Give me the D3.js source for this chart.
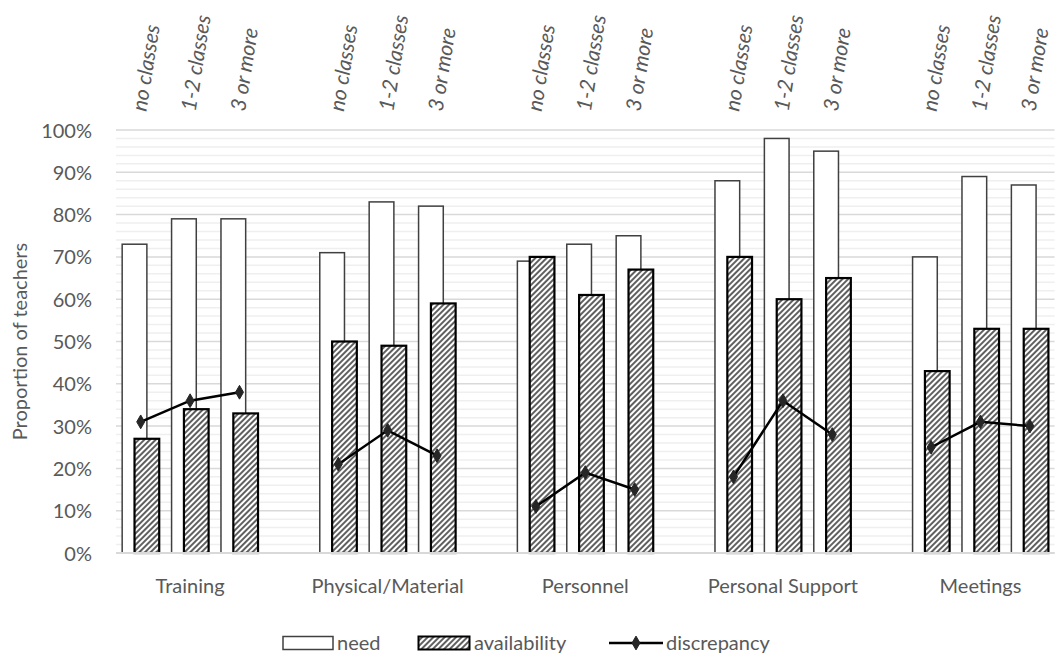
<!DOCTYPE html>
<html>
<head>
<meta charset="utf-8">
<script src="https://cdn.jsdelivr.net/npm/d3@7"></script>
<style>
  html, body { margin: 0; padding: 0; background: #fff; }
  svg { display: block; font-family: Lato, "Open Sans", sans-serif; }
</style>
</head>
<body>
<svg id="chart" width="1055" height="653"></svg>
<script>
// Resource areas and class-count subgroups
const groups = ["Training", "Physical/Material", "Personnel", "Personal Support", "Meetings"];
const subgroups = ["no classes", "1-2 classes", "3 or more"];

// Proportions (%) per group, in subgroup order
const need         = [[73, 79, 79], [71, 83, 82], [69, 73, 75], [88, 98, 95], [70, 89, 87]];
const availability = [[27, 34, 33], [50, 49, 59], [70, 61, 67], [70, 60, 65], [43, 53, 53]];
const discrepancy  = [[31, 36, 38], [21, 29, 23], [11, 19, 15], [18, 36, 28], [25, 31, 30]];

const yTicks = [0, 10, 20, 30, 40, 50, 60, 70, 80, 90, 100];
const legendLabels = ["need", "availability", "discrepancy"];

const svg = d3.select("#chart");
const textColor = "#595959";

const plot = { left: 116, right: 1054.6, top: 130, bottom: 553 };

// 3 bars per group plus one empty slot between groups
const slotsPerGroup = subgroups.length + 1;
const nSlots = groups.length * slotsPerGroup - 1;
const slotIndex = (g, s) => g * slotsPerGroup + s;

const x = d3.scaleBand().domain(d3.range(nSlots)).range([plot.left, plot.right]).padding(0);
const bw = x.bandwidth();
const y = d3.scaleLinear().domain([0, 100]).range([plot.bottom, plot.top]);

// hatch pattern for availability bars
const defs = svg.append("defs");
const hp = 4.0;
const pat = defs.append("pattern")
  .attr("id", "hatch")
  .attr("patternUnits", "userSpaceOnUse")
  .attr("width", hp).attr("height", hp)
  .attr("patternTransform", "rotate(45)");
pat.append("rect").attr("width", hp).attr("height", hp).attr("fill", "#fff");
pat.append("line").attr("x1", 1).attr("y1", 0).attr("x2", 1).attr("y2", hp)
  .attr("stroke", "#000").attr("stroke-width", 1.25);

// gridlines: minor every 2%, major every 10%
const minor = d3.range(2, 100, 2).filter(v => v % 10 !== 0);
svg.append("g").selectAll("line").data(minor).join("line")
  .attr("x1", plot.left).attr("x2", plot.right)
  .attr("y1", d => y(d)).attr("y2", d => y(d))
  .attr("stroke", "#efefef").attr("stroke-width", 1.5);
svg.append("g").selectAll("line").data(yTicks).join("line")
  .attr("x1", plot.left).attr("x2", plot.right)
  .attr("y1", d => y(d)).attr("y2", d => y(d))
  .attr("stroke", "#d9d9d9").attr("stroke-width", 1.5);

// y axis labels
const yAxis = d3.axisLeft(y).tickValues(yTicks).tickFormat(d => d + "%").tickSize(0).tickPadding(0);
const yg = svg.append("g").attr("transform", `translate(92,0)`).call(yAxis);
yg.select(".domain").remove();
yg.selectAll("text").attr("fill", textColor).style("font-size", "20px")
  .style("font-family", "Lato, 'Open Sans', sans-serif").attr("dy", "0.35em");

// y axis title
svg.append("text")
  .attr("transform", `translate(27,${(plot.top + plot.bottom) / 2}) rotate(-90)`)
  .attr("text-anchor", "middle").attr("fill", textColor).style("font-size", "20px")
  .text("Proportion of teachers");

// flatten values into slot records
const rows = [];
groups.forEach((g, gi) => subgroups.forEach((s, si) => rows.push({
  g: gi, s: si, slot: slotIndex(gi, si),
  need: need[gi][si], avail: availability[gi][si], disc: discrepancy[gi][si]
})));

// need bars
svg.append("g").selectAll("rect").data(rows).join("rect")
  .attr("x", d => x(d.slot) + 0.125 * bw)
  .attr("width", 0.5 * bw)
  .attr("y", d => y(d.need))
  .attr("height", d => y(0) - y(d.need))
  .attr("fill", "#fff").attr("stroke", "#404040").attr("stroke-width", 1.5);

// availability bars
svg.append("g").selectAll("rect").data(rows).join("rect")
  .attr("x", d => x(d.slot) + 0.375 * bw)
  .attr("width", 0.5 * bw)
  .attr("y", d => y(d.avail))
  .attr("height", d => y(0) - y(d.avail))
  .attr("fill", "url(#hatch)").attr("stroke", "#000").attr("stroke-width", 2.2);

// baseline
svg.append("line").attr("x1", plot.left).attr("x2", plot.right)
  .attr("y1", y(0)).attr("y2", y(0)).attr("stroke", "#d9d9d9").attr("stroke-width", 2);

// discrepancy line, one segment per group
const line = d3.line().x(d => x(d.slot) + bw / 2).y(d => y(d.disc));
const diamond = d3.symbol().type(d3.symbolDiamond).size(55);
groups.forEach((g, gi) => {
  const pts = rows.filter(r => r.g === gi);
  svg.append("path").datum(pts).attr("d", line)
    .attr("fill", "none").attr("stroke", "#000").attr("stroke-width", 2.5);
  svg.append("g").selectAll("path").data(pts).join("path")
    .attr("d", diamond)
    .attr("transform", d => `translate(${x(d.slot) + bw / 2},${y(d.disc)})`)
    .attr("fill", "#262626").attr("stroke", "#262626").attr("stroke-width", 1);
});

// group labels below axis
svg.append("g").selectAll("text").data(groups).join("text")
  .attr("x", (d, gi) => x(slotIndex(gi, 1)) + bw / 2)
  .attr("y", 593)
  .attr("text-anchor", "middle").attr("fill", textColor).style("font-size", "20px")
  .text(d => d);

// subgroup labels above plot, slanted
svg.append("g").selectAll("text").data(rows).join("text")
  .attr("transform", d => `translate(${x(d.slot) + bw / 2 + 5.5},112) rotate(-81)`)
  .attr("fill", textColor).style("font-size", "21px").style("font-style", "italic")
  .text(d => subgroups[d.s]);

// legend
const lg = svg.append("g");
const ly = 643;
lg.append("rect").attr("x", 283).attr("y", ly - 6.5).attr("width", 50).attr("height", 13)
  .attr("fill", "#fff").attr("stroke", "#404040").attr("stroke-width", 1.5);
lg.append("rect").attr("x", 418.5).attr("y", ly - 6.5).attr("width", 51).attr("height", 13)
  .attr("fill", "url(#hatch)").attr("stroke", "#000").attr("stroke-width", 2);
lg.append("line").attr("x1", 609).attr("x2", 663).attr("y1", ly).attr("y2", ly)
  .attr("stroke", "#000").attr("stroke-width", 2.5);
lg.append("path").attr("d", diamond).attr("transform", `translate(636,${ly})`)
  .attr("fill", "#262626").attr("stroke", "#262626");
const legendX = [337, 474, 666];
lg.selectAll("text").data(legendLabels).join("text")
  .attr("x", (d, i) => legendX[i]).attr("y", ly).attr("dy", "0.35em")
  .attr("fill", textColor).style("font-size", "20px")
  .text(d => d);
</script>
</body>
</html>
